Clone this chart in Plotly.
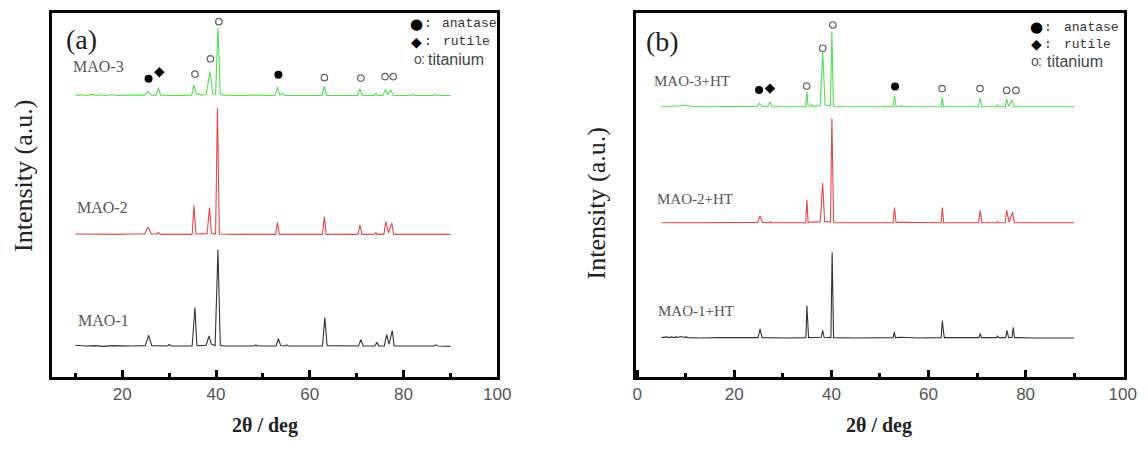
import plotly.graph_objects as go

# ---------------- data: (2theta, net intensity above each pattern's baseline) ----------------
MAO1 = [(10,0.3),(12,0.1),(14,0.2),(16,0.0),(18,0.2),(20,0.1),(22,0.1),(24.9,0.2),(25.6,3.0),(26.3,0.2),
        (29.6,0.1),(30.0,0.5),(30.4,0.1),(34.9,0.1),(35.5,10.7),(35.9,0.3),(36.3,0.2),(37.9,0.3),(38.5,2.9),
        (39.0,0.6),(39.8,0.2),(40.4,26.6),(40.9,0.3),(41.5,0.1),(48.2,0.1),(48.5,0.4),(48.8,0.1),(52.8,0.1),
        (53.3,2.1),(53.8,0.2),(54.8,0.1),(55.1,0.4),(55.4,0.1),(62.7,0.1),(63.2,7.9),(63.7,0.2),(70.4,0.1),
        (70.9,1.8),(71.4,0.1),(73.9,0.1),(74.3,1.1),(74.7,0.1),(75.9,0.1),(76.4,3.2),(76.9,0.6),(77.6,4.3),
        (78.0,0.1),(82.0,0.1),(86.5,0.1),(86.9,0.4),(87.3,0.1),(90,0.0)]
MAO2 = [(10,0.2),(13,0.1),(16,0.2),(19,0.1),(22,0.2),(24.8,0.2),(25.5,2.1),(26.2,0.2),(27.3,0.2),(27.7,0.6),
        (28.1,0.1),(31,0.1),(34.9,0.1),(35.3,8.0),(35.7,0.2),(38.1,0.3),(38.6,7.5),(39.0,0.4),(39.9,0.2),
        (40.3,34.8),(40.45,14.5),(40.7,0.2),(44,0.1),(48.0,0.1),(48.3,0.3),(48.6,0.1),(52.7,0.1),(53.1,3.4),
        (53.5,0.1),(58,0.1),(62.7,0.1),(63.1,4.9),(63.5,0.1),(70.3,0.1),(70.7,2.7),(71.1,0.1),(73.8,0.1),
        (74.1,0.6),(74.4,0.1),(75.8,0.1),(76.2,3.6),(76.8,0.5),(77.5,3.2),(77.9,0.1),(82,0.1),(86.4,0.1),
        (86.7,0.3),(87.0,0.1),(90,0.1)]
MAO3 = [(10,0.4),(10.6,0.1),(11.5,0.3),(12.5,0.1),(13.5,0.4),(14.5,0.1),(15.5,0.3),(16.5,0.1),(17.5,0.3),
        (19,0.1),(21,0.2),(23,0.1),(24.7,0.2),(25.5,1.2),(26.3,0.2),(27.2,0.2),(27.7,2.1),(28.2,0.2),(31,0.1),
        (34.8,0.2),(35.3,3.0),(35.8,0.4),(36.3,0.6),(36.8,0.2),(37.9,0.4),(38.7,6.7),(39.3,0.5),(39.9,0.4),
        (40.4,18.7),(40.9,0.5),(41.5,0.2),(45,0.1),(48.3,0.2),(52.6,0.1),(53.1,2.4),(53.6,0.3),(53.9,0.3),
        (54.2,0.8),(54.6,0.1),(58,0.1),(62.6,0.1),(63.1,2.6),(63.6,0.1),(70.2,0.1),(70.7,1.9),(71.2,0.1),
        (73.8,0.1),(74.1,0.7),(74.4,0.1),(75.6,0.1),(76.1,1.8),(76.6,0.4),(77.3,1.6),(77.8,0.1),(81.7,0.1),
        (82.0,0.5),(82.3,0.1),(86.4,0.1),(86.7,0.5),(87.0,0.1),(90,0.1)]

MAO1_HT = [(5,0.1),(6,0.3),(6.5,0.1),(7,0.3),(7.5,0.1),(8,0.3),(8.5,0.2),(9,0.4),(9.5,0.2),(10,0.3),(10.5,0.1),
           (13,0.0),(17,0.1),(21,0.1),(24.9,0.1),(25.3,2.5),(25.7,0.1),(31,0.0),(34.75,0.1),(34.95,8.9),
           (35.1,2.8),(35.3,0.1),(37.9,0.2),(38.2,2.1),(38.5,0.2),(39.9,0.1),(40.15,23.5),(40.3,9.8),(40.45,0.1),
           (45,0.0),(48,0.1),(52.7,0.1),(52.95,1.6),(53.2,0.1),(54.3,0.2),(58,0.0),(62.6,0.1),(62.85,4.8),
           (63.05,2.0),(63.25,0.1),(70.4,0.1),(70.65,1.2),(70.9,0.1),(74.0,0.1),(74.2,0.6),(74.4,0.1),
           (75.9,0.1),(76.15,2.1),(76.5,0.1),(77.2,0.2),(77.45,2.9),(77.7,0.1),(82,0.0),(86.8,0.1),(90,0.0)]
MAO2_HT = [(5,0.1),(8,0.2),(10,0.1),(13,0.1),(17,0.1),(21,0.1),(24.8,0.2),(25.3,2.0),(25.8,0.2),(27.1,0.1),
           (27.4,0.4),(27.7,0.1),(31,0.1),(34.7,0.1),(34.95,6.4),(35.2,0.2),(37.7,0.4),(38.2,11.0),(38.6,0.5),
           (39.8,0.3),(40.1,28.8),(40.25,12.0),(40.45,0.3),(40.9,0.1),(45,0.1),(48,0.2),(52.7,0.1),(53.0,4.3),
           (53.3,0.2),(54.3,0.2),(58,0.1),(62.6,0.1),(62.85,4.3),(63.1,0.1),(70.3,0.1),(70.65,3.5),(71.0,0.1),
           (73.9,0.1),(74.2,0.4),(74.5,0.1),(75.8,0.1),(76.1,3.5),(76.6,0.2),(77.3,3.0),(77.7,0.1),(82.0,0.1),
           (82.3,0.3),(82.6,0.1),(86.5,0.1),(86.8,0.3),(87.1,0.1),(90,0.1)]
MAO3_HT = [(5,0.1),(6,0.2),(7,0.1),(8,0.2),(9,0.4),(9.8,0.6),(10.6,0.3),(11.5,0.1),(14,0.1),(18,0.1),(22,0.1),
           (24.7,0.2),(25.2,1.1),(25.7,0.2),(26.9,0.1),(27.35,1.4),(27.8,0.1),(31,0.1),(34.7,0.1),(34.95,4.3),
           (35.2,0.3),(35.6,0.3),(35.9,0.7),(36.2,0.2),(37.7,0.4),(38.2,15.3),(38.7,0.6),(39.8,0.3),(40.1,20.8),
           (40.4,0.4),(40.8,0.1),(45,0.1),(48,0.1),(52.7,0.1),(53.0,3.1),(53.3,0.2),(54.1,0.1),(54.3,0.4),
           (54.6,0.1),(58,0.1),(62.6,0.1),(62.85,2.7),(63.1,0.1),(70.3,0.1),(70.65,2.5),(71.0,0.1),(73.9,0.1),
           (74.2,0.6),(74.5,0.1),(75.8,0.1),(76.1,2.2),(76.5,0.2),(77.2,2.0),(77.6,0.1),(82.0,0.1),(82.3,0.3),
           (82.6,0.1),(86.5,0.1),(86.8,0.2),(87.1,0.1),(90,0.1)]

# vertical stacking offsets (a.u.)
OFFSETS_A = {"MAO-1": 8.3, "MAO-2": 39.0, "MAO-3": 77.2}
OFFSETS_B = {"MAO-1+HT": 10.6, "MAO-2+HT": 42.2, "MAO-3+HT": 74.1}

# phase-identification markers (2theta, a.u.)
A_TI_X = [35.5, 38.8, 40.6, 63.1, 70.9, 76.05, 77.8]
A_TI_Y = [83.2, 87.4, 97.6, 82.2, 82.1, 82.5, 82.5]
A_AN_X = [25.6, 53.3]
A_AN_Y = [81.9, 83.0]
A_RU_X = [27.9]
A_RU_Y = [83.7]
B_TI_X = [34.9, 38.2, 40.3, 62.8, 70.6, 76.1, 78.0]
B_TI_Y = [79.9, 90.3, 96.7, 79.2, 79.2, 78.7, 78.7]
B_AN_X = [25.1, 53.1]
B_AN_Y = [78.8, 79.8]
B_RU_X = [27.35]
B_RU_Y = [79.2]

XTICKS_A = [20, 40, 60, 80, 100]
XTICKS_B = [0, 20, 40, 60, 80, 100]
MINOR_TICKS = [10, 30, 50, 70, 90]

GREEN = "#4fe04f"
RED = "#e84545"
BLACK = "#333333"

fig = go.Figure()

def add_pattern(pairs, offset, color, xa, ya):
    fig.add_trace(go.Scatter(x=[p[0] for p in pairs], y=[p[1] + offset for p in pairs],
                             mode="lines", line=dict(color=color, width=1.1),
                             xaxis=xa, yaxis=ya, showlegend=False, hoverinfo="skip"))

add_pattern(MAO1, OFFSETS_A["MAO-1"], BLACK, "x", "y")
add_pattern(MAO2, OFFSETS_A["MAO-2"], RED, "x", "y")
add_pattern(MAO3, OFFSETS_A["MAO-3"], GREEN, "x", "y")
add_pattern(MAO1_HT, OFFSETS_B["MAO-1+HT"], BLACK, "x2", "y2")
add_pattern(MAO2_HT, OFFSETS_B["MAO-2+HT"], RED, "x2", "y2")
add_pattern(MAO3_HT, OFFSETS_B["MAO-3+HT"], GREEN, "x2", "y2")

def add_markers(x, y, symbol, size, fill, xa, ya):
    fig.add_trace(go.Scatter(x=x, y=y, mode="markers",
                             marker=dict(symbol=symbol, size=size, color=fill,
                                         line=dict(color="#666666" if fill == "white" else "black",
                                                   width=1.2 if fill == "white" else 0)),
                             xaxis=xa, yaxis=ya, showlegend=False, hoverinfo="skip"))

add_markers(A_TI_X, A_TI_Y, "circle", 6.5, "white", "x", "y")
add_markers(A_AN_X, A_AN_Y, "circle", 8, "black", "x", "y")
add_markers(A_RU_X, A_RU_Y, "diamond", 8, "black", "x", "y")
add_markers(B_TI_X, B_TI_Y, "circle", 6.5, "white", "x2", "y2")
add_markers(B_AN_X, B_AN_Y, "circle", 8, "black", "x2", "y2")
add_markers(B_RU_X, B_RU_Y, "diamond", 8, "black", "x2", "y2")

# the page body has an 8px default margin: size the figure to fit inside the window
PAGE_MARGIN = 8
W, H = 1148 - PAGE_MARGIN, 450 - PAGE_MARGIN
def px(x):
    return (x - PAGE_MARGIN) / W
def py(y):
    return 1 - (y - PAGE_MARGIN) / H

axis_common = dict(showline=True, mirror=True, linecolor="black", linewidth=2.5, showgrid=False,
                   zeroline=False, ticks="inside", ticklen=7, tickwidth=2.5, tickcolor="black",
                   tickfont=dict(family="Liberation Sans, Arial", size=17, color="#555555"),
                   minor=dict(tickvals=MINOR_TICKS, ticks="inside", ticklen=4, tickwidth=2.5,
                              tickcolor="black", showgrid=False))
yaxis_common = dict(showline=True, mirror=True, linecolor="black", linewidth=2.5, showgrid=False,
                    zeroline=False, ticks="", showticklabels=False, range=[0, 100],
                    domain=[py(376.5), py(13)])

fig.update_layout(
    width=W, height=H, template="none",
    paper_bgcolor="white", plot_bgcolor="white",
    margin=dict(l=0, r=0, t=0, b=0),
    showlegend=False,
    xaxis=dict(domain=[px(52), px(497.3)], range=[5, 100], tickvals=XTICKS_A, anchor="y", **axis_common),
    yaxis=dict(anchor="x", **yaxis_common),
    xaxis2=dict(domain=[px(635.5), px(1123.5)], range=[-0.35, 100.16], tickvals=XTICKS_B, anchor="y2",
                **axis_common),
    yaxis2=dict(anchor="x2", **yaxis_common),
)

ann = []
def text(x, y, s, size, family, color="#222222", xanchor="center", angle=0, bold=False):
    if bold:
        s = "<b>" + s + "</b>"
    ann.append(dict(x=px(x), y=py(y), xref="paper", yref="paper", text=s, showarrow=False,
                    xanchor=xanchor, yanchor="middle", textangle=angle,
                    font=dict(family=family, size=size, color=color)))

SERIF = "Liberation Serif, Times New Roman, serif"
SANS = "Liberation Sans, Arial, sans-serif"
MONO = "Liberation Mono, Courier New, monospace"

# panel labels
text(81, 40, "(a)", 28, SERIF)
text(662, 41.7, "(b)", 28, SERIF)
# sample labels
text(70.5, 66.7, "MAO-3", 16, SERIF, "#555555", "left")
text(74.5, 208, "MAO-2", 16, SERIF, "#555555", "left")
text(75.5, 320, "MAO-1", 16, SERIF, "#555555", "left")
text(651.5, 80.7, "MAO-3+HT", 15, SERIF, "#555555", "left")
text(655, 199.3, "MAO-2+HT", 15, SERIF, "#555555", "left")
text(656, 310.7, "MAO-1+HT", 15, SERIF, "#555555", "left")
# axis titles
text(23, 176, "Intensity (a.u.)", 26, SERIF, "#222222", angle=-90)
text(596, 203.5, "Intensity (a.u.)", 26, SERIF, "#222222", angle=-90)
text(265, 425, "2θ / deg", 20, SERIF, "#222222", bold=True)
text(879, 425, "2θ / deg", 20, SERIF, "#222222", bold=True)

# phase key (a)
text(416.7, 24, "●", 15, "DejaVu Sans", "black")
text(428, 24, ":", 13, MONO, "#333333")
text(440, 24, "anatase", 13, MONO, "#333333", "left")
text(416, 41.7, "◆", 14, "DejaVu Sans", "black")
text(428, 41.7, ":", 13, MONO, "#333333")
text(441, 41.7, "rutile", 13, MONO, "#333333", "left")
text(418.3, 59.3, "o", 14, SANS, "#555555")
text(423.3, 59.3, ":", 14, SANS, "#555555")
text(425.7, 59.3, "titanium", 16, SANS, "#444444", "left")
# phase key (b)
text(1036, 27.3, "●", 15, "DejaVu Sans", "black")
text(1048.3, 27.3, ":", 13, MONO, "#333333")
text(1061.7, 27.3, "anatase", 13, MONO, "#333333", "left")
text(1036, 44.3, "◆", 14, "DejaVu Sans", "black")
text(1048.3, 44.3, ":", 13, MONO, "#333333")
text(1061.7, 44.3, "rutile", 13, MONO, "#333333", "left")
text(1035, 61, "o", 14, SANS, "#555555")
text(1040, 61, ":", 14, SANS, "#555555")
text(1045, 61, "titanium", 16, SANS, "#444444", "left")

fig.update_layout(annotations=ann)
fig.write_html("out.html")
